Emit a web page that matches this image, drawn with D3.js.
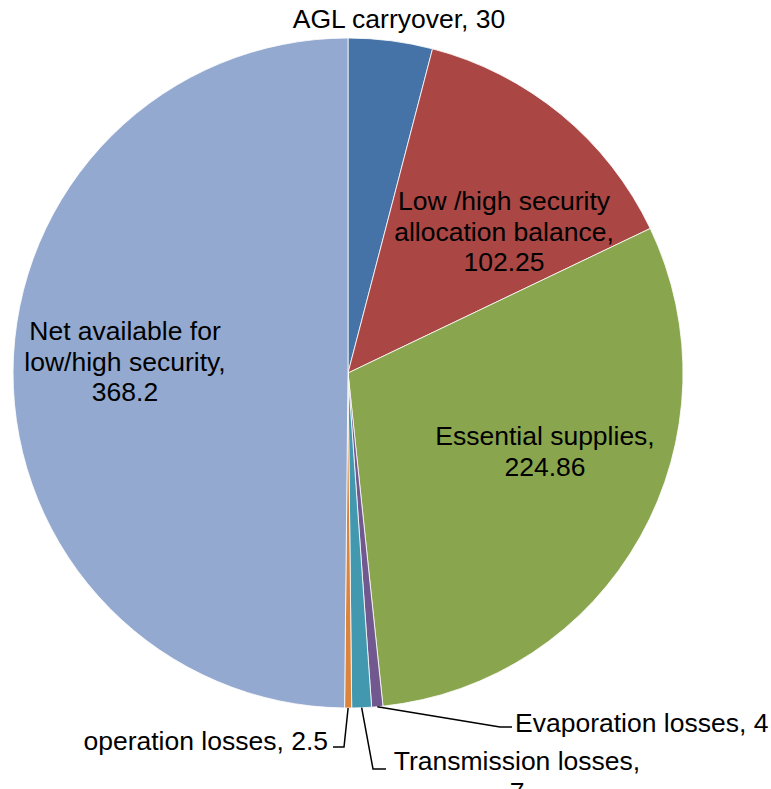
<!DOCTYPE html>
<html>
<head>
<meta charset="utf-8">
<script src="https://cdn.jsdelivr.net/npm/d3@7"></script>
<style>
  html, body { margin: 0; padding: 0; background: #fff; }
  svg text { font-family: "Liberation Sans", Arial, sans-serif; font-size: 26.5px; fill: #000; }
</style>
</head>
<body>
<svg id="chart" width="771" height="789"></svg>
<script>
// Water allocation components (GL)
const categories = [
  "AGL carryover",
  "Low /high security allocation balance",
  "Essential supplies",
  "Evaporation losses",
  "Transmission losses",
  "operation losses",
  "Net available for low/high security"
];
const values = [30, 102.25, 224.86, 4, 7, 2.5, 368.2];
const colors = ["#4572A7", "#AA4643", "#89A54E", "#71588F", "#4198AF", "#DB843D", "#93A9CF"];

// Label text lines (name and value wrapped as they appear on the chart)
const labelLines = [
  ["AGL carryover, 30"],
  ["Low /high security", "allocation balance,", "102.25"],
  ["Essential supplies,", "224.86"],
  ["Evaporation losses, 4"],
  ["Transmission losses,", "7"],
  ["operation losses, 2.5"],
  ["Net available for", "low/high security,", "368.2"]
];

const svg = d3.select("#chart");
const cx = 348, cy = 373, R = 335;
const lineH = 30.5;

const pie = d3.pie().sort(null).value(d => d)(values);
const arc = d3.arc().innerRadius(0).outerRadius(R);

const g = svg.append("g").attr("transform", `translate(${cx},${cy})`);

g.selectAll("path.slice")
  .data(pie)
  .join("path")
  .attr("class", "slice")
  .attr("d", arc)
  .attr("fill", (d, i) => colors[i])
  .attr("stroke", "#ffffff")
  .attr("stroke-width", 0.8);

// Label placement: anchor point (x of text anchor, baseline of first line), relative to pie centre
const labelLayout = [
  { x: 51,   y: -345, anchor: "middle" },
  { x: 156,  y: -163, anchor: "middle" },
  { x: 197,  y: 72,   anchor: "middle" },
  { x: 167,  y: 359,  anchor: "start",  leader: [[152, 354], [164, 354]] },
  { x: 169,  y: 397,  anchor: "middle", leader: [[25, 396], [38, 396]] },
  { x: -20,  y: 377,  anchor: "end",    leader: [[-4, 374], [-15, 374]] },
  { x: -223, y: -33,  anchor: "middle" }
];

// Leader lines run from the slice rim at its mid-angle
pie.forEach((d, i) => {
  const L = labelLayout[i];
  if (!L.leader) return;
  const a = (d.startAngle + d.endAngle) / 2;
  const start = [R * Math.sin(a), -R * Math.cos(a)];
  const pts = [start, ...L.leader];
  g.append("path")
    .attr("d", d3.line()(pts))
    .attr("fill", "none")
    .attr("stroke", "#000")
    .attr("stroke-width", 1.5);
});

pie.forEach((d, i) => {
  const L = labelLayout[i];
  const t = g.append("text")
    .attr("text-anchor", L.anchor)
    .attr("x", L.x)
    .attr("y", L.y);
  labelLines[i].forEach((line, k) => {
    t.append("tspan")
      .attr("x", L.x)
      .attr("dy", k === 0 ? 0 : lineH)
      .text(line);
  });
});
</script>
</body>
</html>
